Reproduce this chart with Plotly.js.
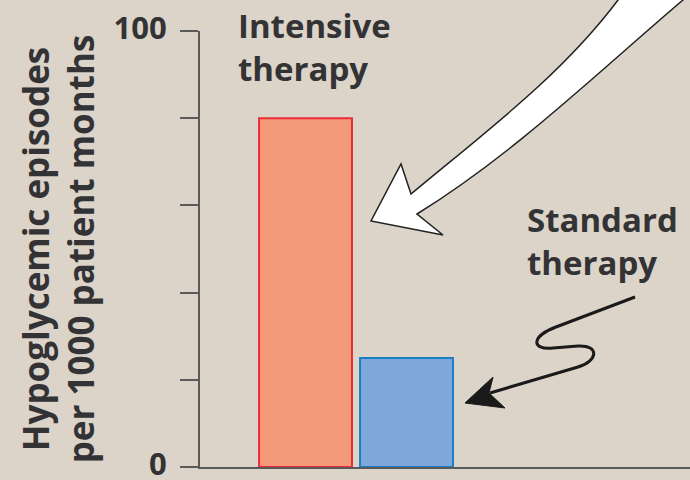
<!DOCTYPE html>
<html>
<head>
<meta charset="utf-8">
<script src="https://cdn.plot.ly/plotly-3.0.1.min.js"></script>
<style>html,body{margin:0;padding:0;background:#dcd4c8;}#chart{width:690px;height:480px;}</style>
</head>
<body>
<div id="chart"></div>
<script>
// ---- data ----
const categories = ["Intensive therapy", "Standard therapy"];
const episodes = [80, 25];
const fillColors = ["#f59a79", "#7fa8da"];
const edgeColors = ["#ec2c38", "#1a7dc6"];
const tickValues = [0, 20, 40, 60, 80, 100];
const tickLabels = ["0", "", "", "", "", "100"];
const yTitle = "Hypoglycemic episodes<br>per 1000 patient months";

// ---- layout geometry (pixels) ----
const W = 690, H = 480;
const M = {l: 200, r: 0, t: 31, b: 13};
const pw = W - M.l - M.r, ph = H - M.t - M.b;
function P(x, y) { // pixel -> paper coordinates for decorations
  return ((x - M.l) / pw).toFixed(4) + ',' + ((H - M.b - y) / ph).toFixed(4);
}
function path(cmds) {
  return cmds.map(c => typeof c === 'string' ? c : P(c[0], c[1])).join(' ');
}

const txtColor = '#333336';
const fontFam = '"Open Sans", "Noto Sans", sans-serif';

const whiteArrow = path(['M', [633, -20], 'L', [618, 0],
  'C', [561, 76], [484, 133], [411, 194],
  'L', [401, 164], 'L', [371, 221], 'L', [443, 235], 'L', [417, 214],
  'C', [514, 154], [596, 74], [683, 0],
  'L', [706, -20], 'Z']);

const squiggle = path(['M', [635, 297], 'L', [556, 327], 'C', [532, 336], [530, 350], [553, 348],
  'L', [578, 346], 'C', [600, 345], [598, 361], [578, 367], 'L', [490, 393]]);
const squiggleHead = path(['M', [465, 403], 'L', [493, 377], 'L', [489, 393], 'L', [505, 408], 'Z']);

const data = [{
  type: 'bar',
  x: categories,
  y: episodes,
  marker: {color: fillColors, line: {color: edgeColors, width: 2}},
  hoverinfo: 'x+y'
}];

const layout = {
  width: W, height: H,
  margin: M,
  paper_bgcolor: '#dcd4c8',
  plot_bgcolor: '#dcd4c8',
  showlegend: false,
  bargap: 0.08,
  font: {family: fontFam, color: txtColor},
  xaxis: {
    type: 'category',
    range: [-1.045, 3.807],
    showticklabels: false,
    ticks: '',
    showgrid: false,
    zeroline: false,
    showline: true,
    linecolor: '#5a5a5a',
    linewidth: 2,
    fixedrange: true
  },
  yaxis: {
    range: [0, 100],
    tickvals: tickValues,
    ticktext: tickLabels,
    ticks: 'outside',
    ticklen: 18,
    tickwidth: 2,
    tickcolor: '#5a5a5a',
    showgrid: false,
    zeroline: false,
    showline: true,
    linecolor: '#5a5a5a',
    linewidth: 2,
    ticklabeloverflow: 'allow',
    tickfont: {family: fontFam, size: 31, weight: 700, color: txtColor},
    ticklabelstandoff: 7,
    ticklabelshift: -3,
    title: {text: yTitle, font: {family: fontFam, size: 35, weight: 700, color: txtColor}, standoff: 8},
    fixedrange: true
  },
  annotations: [
    {xref: 'paper', yref: 'paper', x: (236 - M.l) / pw, y: (H - M.b - 1) / ph, xanchor: 'left', yanchor: 'top',
     text: 'Intensive<br>therapy', align: 'left', showarrow: false,
     font: {family: fontFam, size: 33, weight: 700, color: txtColor}},
    {xref: 'paper', yref: 'paper', x: (525 - M.l) / pw, y: (H - M.b - 195) / ph, xanchor: 'left', yanchor: 'top',
     text: 'Standard<br>therapy', align: 'left', showarrow: false,
     font: {family: fontFam, size: 33, weight: 700, color: txtColor}}
  ],
  shapes: [
    {type: 'path', xref: 'paper', yref: 'paper', path: whiteArrow, fillcolor: '#ffffff',
     line: {color: '#222222', width: 1.5}},
    {type: 'path', xref: 'paper', yref: 'paper', path: squiggle, fillcolor: 'rgba(0,0,0,0)',
     line: {color: '#1a1a1a', width: 3}},
    {type: 'path', xref: 'paper', yref: 'paper', path: squiggleHead, fillcolor: '#1a1a1a',
     line: {color: '#1a1a1a', width: 1}}
  ]
};

Plotly.newPlot('chart', data, layout, {displayModeBar: false, staticPlot: true});
</script>
</body>
</html>
